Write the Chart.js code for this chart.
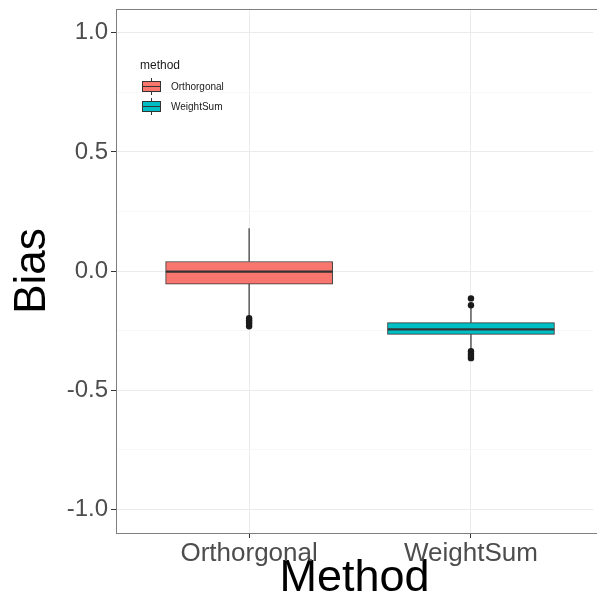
<!DOCTYPE html>
<html>
<head>
<meta charset="utf-8">
<script src="https://cdn.jsdelivr.net/npm/chart.js@4"></script>
<style>
  body { margin: 0; background: #fff; }
  #wrap { position: relative; width: 597px; height: 602px; }
  #legend { position: absolute; left: 140px; top: 58px; font-family: "Liberation Sans", Arial, sans-serif; color: #1a1a1a; }
  #legend .title { font-size: 12px; margin-bottom: 4px; }
  #legend .row { display: flex; align-items: center; height: 20px; font-size: 10px; }
  #legend .key { position: relative; width: 22px; height: 17px; margin-right: 9px; }
  #legend .key .box { position: absolute; left: 2px; top: 3px; width: 17px; height: 9px; border: 1px solid #333; }
  #legend .key .med { position: absolute; left: 2px; top: 8px; width: 19px; height: 1px; background: #333; }
  #legend .key .wh { position: absolute; left: 11px; top: 0; width: 1px; height: 17px; background: #333; }
</style>
</head>
<body>
<div id="wrap">
  <canvas id="bias" width="597" height="602"></canvas>
  <div id="legend"></div>
</div>
<script>
// data
const methods = ['Orthorgonal', 'WeightSum'];
const colors = ['#F8766D', '#00BFC4'];
const q1 = [-0.055, -0.266];
const median = [-0.003, -0.245];
const q3 = [0.040, -0.217];
const whiskerLow = [-0.190, -0.333];
const whiskerHigh = [0.180, -0.152];
const outliers = [
    [-0.198, -0.207, -0.215, -0.223, -0.232],
    [-0.115, -0.144, -0.337, -0.347, -0.357, -0.366]
];
const yTicks = [-1.0, -0.5, 0.0, 0.5, 1.0];
const boxWidth = 0.75; // in category units

const datasets = [];

datasets.push({
    type: 'bar',
    label: 'box',
    data: methods.map((m, i) => ({ x: i + 1, y: [q1[i], q3[i]] })),
    backgroundColor: colors,
    borderColor: '#333333',
    borderWidth: 1,
    borderSkipped: false,
    barThickness: 167,
    grouped: false,
    order: 5
});

methods.forEach((m, i) => {
    const x = i + 1;
    const seg = (pts, w) => ({
        type: 'line',
        data: pts,
        borderColor: '#333333',
        borderWidth: w,
        pointRadius: 0,
        fill: false,
        order: 1
    });
    datasets.push(seg([{ x: x, y: q3[i] }, { x: x, y: whiskerHigh[i] }], 1.2));
    datasets.push(seg([{ x: x, y: q1[i] }, { x: x, y: whiskerLow[i] }], 1.2));
    datasets.push(seg([{ x: x - boxWidth / 2, y: median[i] }, { x: x + boxWidth / 2, y: median[i] }], 2.2));
    datasets.push({
        type: 'scatter',
        data: outliers[i].map(v => ({ x: x, y: v })),
        backgroundColor: '#1a1a1a',
        borderWidth: 0,
        pointRadius: 3.2,
        order: 0
    });
});

const isMajor = v => yTicks.some(t => Math.abs(t - v) < 1e-6);

const panelBorder = {
    id: 'panelBorder',
    afterDraw(chart) {
        const a = chart.chartArea, c = chart.ctx;
        c.save();
        c.strokeStyle = '#7f7f7f';
        c.lineWidth = 1;
        c.strokeRect(a.left + 0.5, a.top + 0.5, a.right - a.left + 10, a.bottom - a.top);
        c.restore();
    }
};

new Chart(document.getElementById('bias'), {
    data: { datasets: datasets },
    options: {
        responsive: false,
        animation: false,
        layout: { padding: { top: 9, right: 0, bottom: 0, left: 0 } },
        plugins: { legend: { display: false }, tooltip: { enabled: false } },
        scales: {
            x: {
                type: 'linear',
                min: 0.4,
                max: 2.55,
                offset: false,
                afterBuildTicks: s => { s.ticks = methods.map((m, i) => ({ value: i + 1 })); },
                afterFit: s => { s.height = 69; s.paddingLeft = 0; s.paddingRight = 0; },
                ticks: {
                    callback: v => methods[Math.round(v) - 1],
                    font: { family: 'Liberation Sans', size: 26 },
                    color: '#4d4d4d',
                    padding: 0,
                    maxRotation: 0,
                    autoSkip: false
                },
                grid: { offset: false, color: '#ebebeb', lineWidth: 1, tickLength: 5, tickColor: '#333333' },
                border: { display: false },
                title: {
                    display: true,
                    text: 'Method',
                    font: { family: 'Liberation Sans', size: 45, lineHeight: 1 },
                    color: '#000000',
                    padding: { top: 0, bottom: 1 }
                }
            },
            y: {
                type: 'linear',
                min: -1.1,
                max: 1.1,
                afterFit: s => { s.width = 116; s.paddingTop = 0; s.paddingBottom = 0; },
                ticks: {
                    stepSize: 0.25,
                    includeBounds: false,
                    callback: v => isMajor(v) ? v.toFixed(1) : '',
                    font: { family: 'Liberation Sans', size: 24 },
                    color: '#4d4d4d',
                    padding: 3
                },
                grid: {
                    color: ctx => isMajor(ctx.tick.value) ? '#ebebeb' : '#f4f4f4',
                    lineWidth: ctx => isMajor(ctx.tick.value) ? 1 : 0.6,
                    tickLength: 5,
                    tickColor: ctx => isMajor(ctx.tick.value) ? '#333333' : 'rgba(0,0,0,0)'
                },
                border: { display: false },
                title: {
                    display: true,
                    text: 'Bias',
                    font: { family: 'Liberation Sans', size: 44, lineHeight: 1 },
                    color: '#000000',
                    padding: { top: 11, bottom: 0 }
                }
            }
        }
    },
    plugins: [panelBorder]
});

// legend
const lg = document.getElementById('legend');
let html = '<div class="title">method</div>';
methods.forEach((m, i) => {
    html += '<div class="row"><div class="key"><div class="wh"></div><div class="box" style="background:' + colors[i] +
        '"></div><div class="med"></div></div>' + m + '</div>';
});
lg.innerHTML = html;
</script>
</body>
</html>
